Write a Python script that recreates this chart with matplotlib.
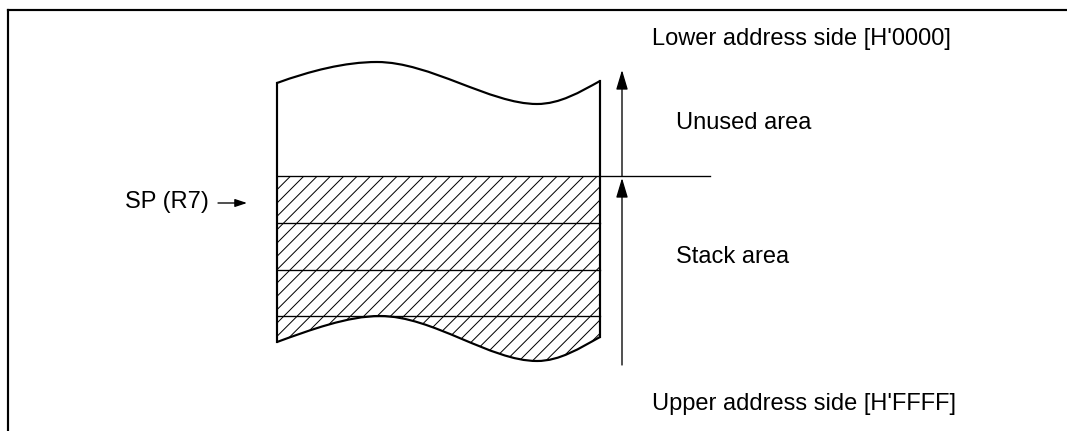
import matplotlib.pyplot as plt
from matplotlib.path import Path
from matplotlib.patches import PathPatch

plt.rcParams['font.family'] = ['Liberation Sans', 'DejaVu Sans']
plt.rcParams['hatch.linewidth'] = 0.6

# labels
addr_labels = ["Lower address side [H'0000]", "Upper address side [H'FFFF]"]
area_labels = ["Unused area", "Stack area"]
sp_label = "SP (R7)"

# diagram geometry (pixel space of the 1067x431 picture)
box_left, box_right = 277, 600
sp_y = 176                       # stack pointer level
stack_lines_y = [223, 270, 316]  # separators inside the stack
# wave outlines: start, peak, trough, end
top_wave = [(277, 83), (377, 62), (537, 104), (600, 81)]
bottom_wave = [(277, 342), (380, 316), (537, 361), (600, 337)]
arrow_x = 622
arrow_top, arrow_bottom = 70, 365


def wave_path(pts):
    (x0, y0), (x1, y1), (x2, y2), (x3, y3) = pts
    verts = [(x0, y0), (x0 + 33, y0 - 12), (x1 - 32, y1), (x1, y1),
             (x1 + 53, y1), (x2 - 47, y2), (x2, y2),
             (x2 + 23, y2), (x3 - 20, y3 + 11), (x3, y3)]
    codes = [Path.MOVETO] + [Path.CURVE4] * 9
    return verts, codes


fig = plt.figure(figsize=(1067 / 120, 431 / 120), dpi=120)
ax = fig.add_axes([0, 0, 1, 1])
ax.set_xlim(0, 1067)
ax.set_ylim(431, 0)
ax.axis('off')

# frame (top and left only)
ax.plot([8, 1067], [10, 10], color='black', lw=1.3)
ax.plot([8, 8], [10, 431], color='black', lw=1.3)

# hatched stack region
bv, bc = wave_path(bottom_wave)
rev = bv[::-1]
hverts = [(box_left, sp_y), (box_right, sp_y), (box_right, bottom_wave[-1][1])] + rev[1:] + [(box_left, sp_y)]
hcodes = [Path.MOVETO, Path.LINETO, Path.LINETO] + [Path.CURVE4] * 9 + [Path.CLOSEPOLY]
ax.add_patch(PathPatch(Path(hverts, hcodes), facecolor='none', edgecolor='black',
                       hatch='///', lw=0))

# outline waves and sides
tv, tc = wave_path(top_wave)
ax.add_patch(PathPatch(Path(tv, tc), facecolor='none', edgecolor='black', lw=1.3))
ax.add_patch(PathPatch(Path(bv, bc), facecolor='none', edgecolor='black', lw=1.3))
ax.plot([box_left, box_left], [top_wave[0][1], bottom_wave[0][1]], color='black', lw=1.3)
ax.plot([box_right, box_right], [top_wave[-1][1], bottom_wave[-1][1]], color='black', lw=1.3)

# SP line and stack separators
ax.plot([box_left, 710], [sp_y, sp_y], color='black', lw=0.8)
for y in stack_lines_y:
    ax.plot([box_left, box_right], [y, y], color='black', lw=0.8)

# address arrows
arrow_style = dict(arrowstyle='-|>,head_length=1.0,head_width=0.3', color='black', lw=0.8,
                   shrinkA=0, shrinkB=0)
ax.annotate('', xy=(arrow_x, arrow_top), xytext=(arrow_x, sp_y), arrowprops=arrow_style)
ax.annotate('', xy=(arrow_x, sp_y + 2), xytext=(arrow_x, arrow_bottom), arrowprops=arrow_style)

# texts
fs = 14.2
ax.text(652, 39, addr_labels[0], fontsize=fs, va='center', ha='left')
ax.text(652, 404, addr_labels[1], fontsize=fs, va='center', ha='left')
ax.text(676, 123, area_labels[0], fontsize=fs, va='center', ha='left')
ax.text(676, 257, area_labels[1], fontsize=fs, va='center', ha='left')
ax.text(125, 202, sp_label, fontsize=fs, va='center', ha='left')
ax.annotate('', xy=(247, 203), xytext=(218, 203),
            arrowprops=dict(arrowstyle='-|>,head_length=0.6,head_width=0.2', color='black', lw=0.8,
                            shrinkA=0, shrinkB=0))

fig.savefig('out.png', dpi=120)
